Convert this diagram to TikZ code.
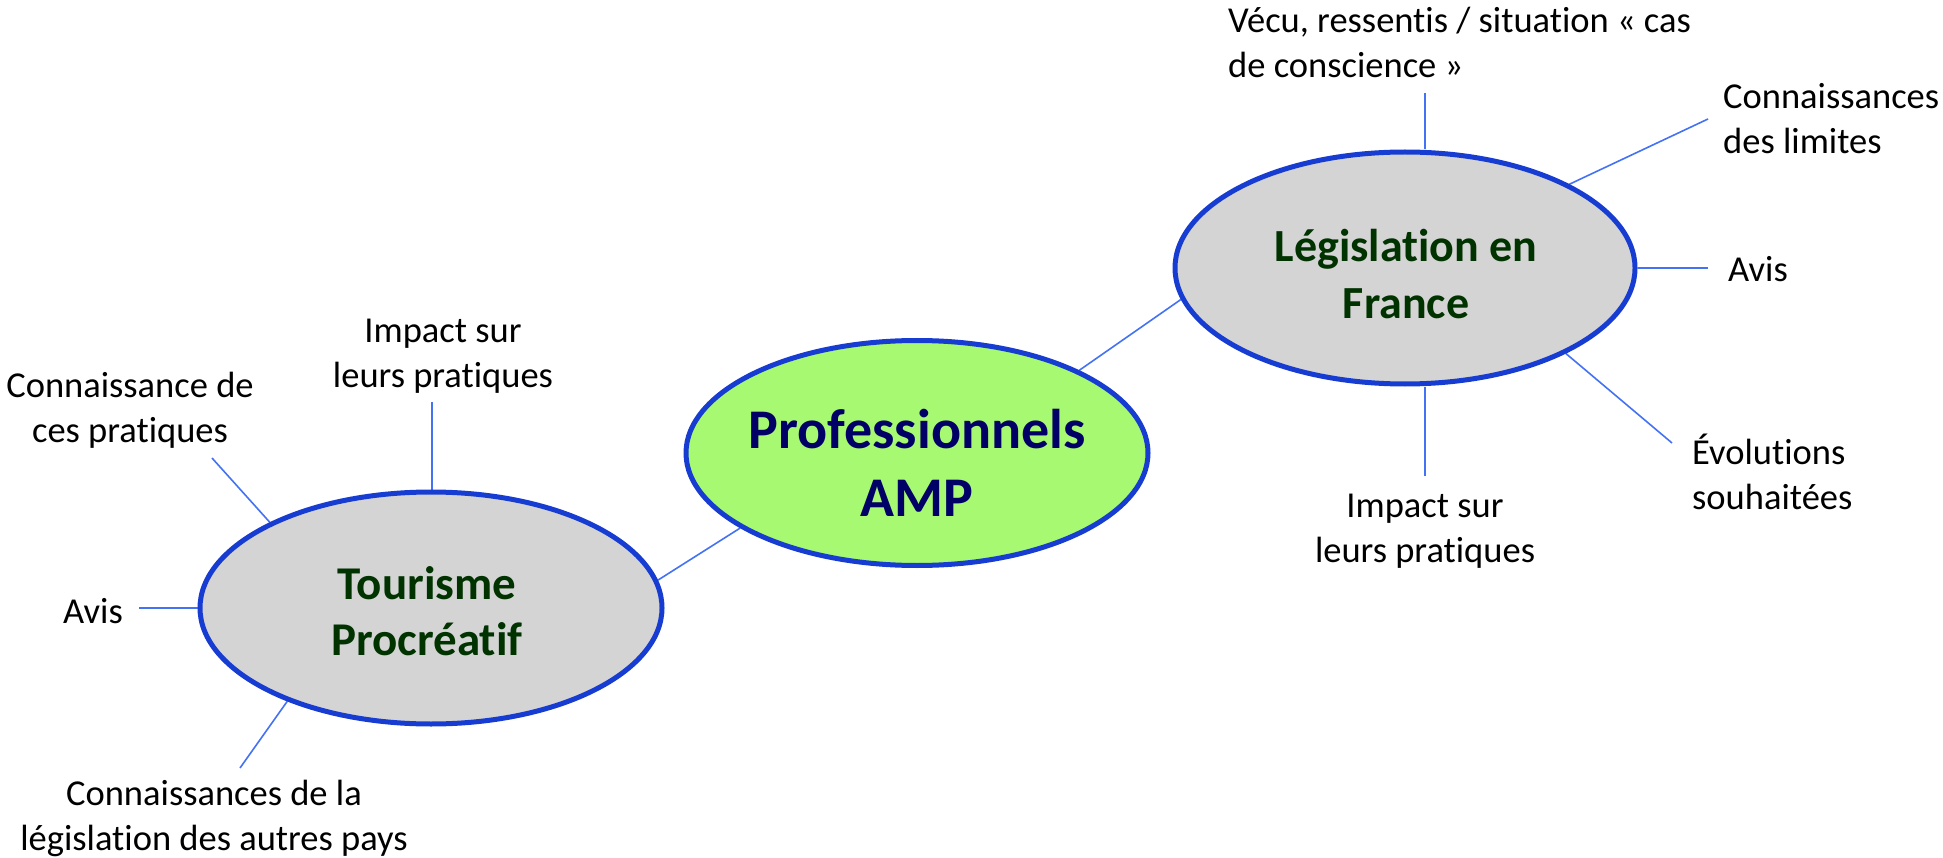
\documentclass[tikz,border=0pt]{standalone}
\usepackage{fontspec}
\setmainfont{Carlito}[RawFeature={-liga;-clig;-calt;-dlig}]
\usetikzlibrary{shapes.geometric,backgrounds}
\definecolor{ringblue}{RGB}{22,60,210}
\definecolor{spoke}{RGB}{68,114,245}
\definecolor{greenfill}{RGB}{166,249,112}
\definecolor{grayfill}{RGB}{212,212,212}
\definecolor{navytext}{RGB}{0,0,102}
\definecolor{dkgreen}{RGB}{0,51,0}
\begin{document}
\begin{tikzpicture}[x=1pt,y=-1pt,
  hub/.style={ellipse,draw=ringblue,line width=5pt,inner sep=0pt},
  lbl/.style={inner sep=0pt,font=\fontsize{36.5}{45}\selectfont,text=black},
  spk/.style={draw=spoke,line width=1.6pt},
  hubtext/.style={inner sep=0pt,align=center,font=\bfseries}
]
\useasboundingbox (0,0) rectangle (1943,858);

% hubs
\node[hub,fill=greenfill,minimum width=462pt,minimum height=225pt] (pro) at (917,453) {};
\node[hub,fill=grayfill,minimum width=460pt,minimum height=232pt] (leg) at (1405,268) {};
\node[hub,fill=grayfill,minimum width=462pt,minimum height=232pt] (tour) at (431,608) {};

\node[hubtext,text=navytext,font=\fontsize{56}{68}\selectfont\bfseries] (proT) at (917,463) {Professionnels\\AMP};
\node[hubtext,text=dkgreen,font=\fontsize{46}{57}\selectfont\bfseries] (legT) at (1406,274) {Législation en\\France};
\node[hubtext,text=dkgreen,font=\fontsize{47}{56}\selectfont\bfseries] (tourT) at (427,611) {Tourisme\\Procréatif};

% labels
\node[lbl,align=left,anchor=west] (vecu) at (1228,42) {Vécu, ressentis / situation « cas\\de conscience »};
\node[lbl,align=left,anchor=west] (limites) at (1723,119) {Connaissances\\des limites};
\node[lbl,anchor=west] (avisR) at (1728,269) {Avis};
\node[lbl,align=left,anchor=west] (evol) at (1692,472) {Évolutions\\souhaitées};
\node[lbl,align=center] (impR) at (1425,531) {Impact sur\\leurs pratiques};
\node[lbl,align=center] (impL) at (443,356) {Impact sur\\leurs pratiques};
\node[lbl,align=center] (conn) at (130,410) {Connaissance de\\ces pratiques};
\node[lbl] (avisL) at (93,611) {Avis};
\node[lbl,align=center] (legis) at (214,818) {Connaissances de la\\législation des autres pays};

% free ends of spokes
\coordinate (eV) at (1425,93);
\coordinate (eL) at (1708,119);
\coordinate (eA) at (1708,268);
\coordinate (eE) at (1672,443);
\coordinate (eI) at (1425,476);
\coordinate (fI) at (432,402);
\coordinate (fC) at (212,458);
\coordinate (fA) at (139,608);
\coordinate (fL) at (240,768);

\begin{scope}[on background layer]
\draw[spk] (pro.203.6) -- (tour.7);
\draw[spk] (pro.27.5) -- (leg.188.4);
\draw[spk] (eV) -- (eV |- leg.north);
\draw[spk] (leg.27.1) -- (eL);
\draw[spk] (leg.east) -- (eA);
\draw[spk] (leg.332.9) -- (eE);
\draw[spk] (eI) -- (eI |- leg.south);
\draw[spk] (fI) -- (fI |- tour.north);
\draw[spk] (tour.152.7) -- (fC);
\draw[spk] (tour.west) -- (fA);
\draw[spk] (tour.213) -- (fL);
\end{scope}
\end{tikzpicture}
\end{document}
